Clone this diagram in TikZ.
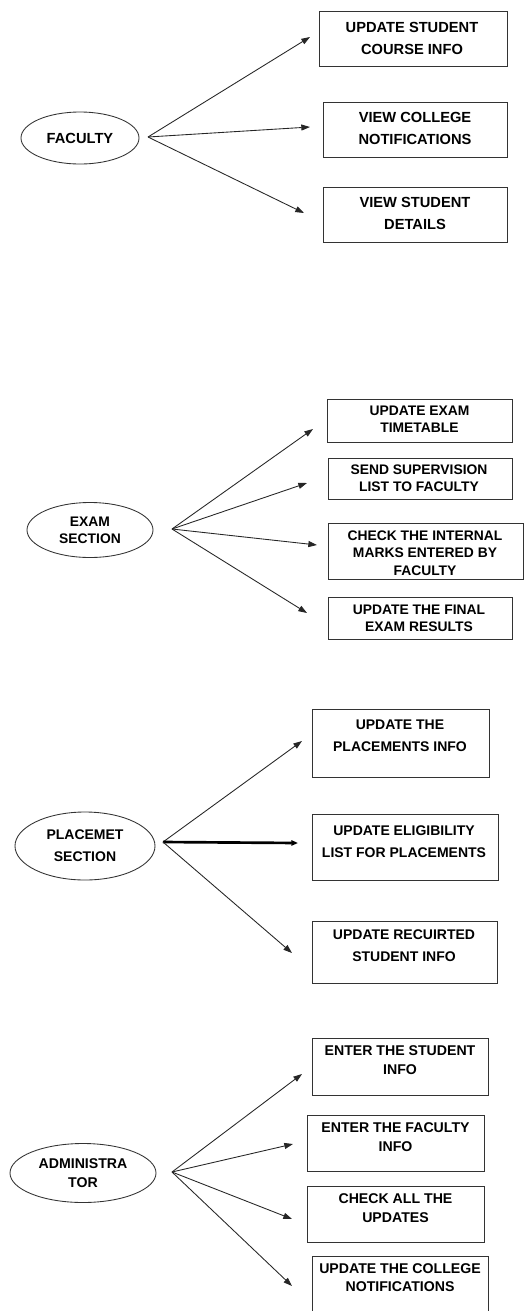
\documentclass[tikz,border=0pt]{standalone}
\usepackage{fontspec}
\setmainfont{Liberation Sans}
\usetikzlibrary{arrows.meta,shapes.geometric}
\begin{document}
\begin{tikzpicture}[x=0.75pt,y=-0.75pt,
 box/.style={draw=black!80,line width=0.75pt,inner sep=0pt},
 txt/.style={align=center,inner sep=0pt},
 actor/.style={draw=black!80,line width=0.65pt,ellipse,inner sep=0pt,align=center},
 arr/.style={draw=black!85,line width=0.65pt,-{Triangle[length=6.5pt,width=4.5pt]}},
 thickarr/.style={draw=black,line width=2pt,-{Triangle[length=5pt,width=4pt]}},
 sa/.style={font=\bfseries\fontsize{11}{16.5}\selectfont},
 sb/.style={font=\bfseries\fontsize{10.4}{13}\selectfont},
 sc/.style={font=\bfseries\fontsize{10.5}{16.5}\selectfont},
 sd/.style={font=\bfseries\fontsize{10.6}{14}\selectfont}]
\clip (0,0) rectangle (527,1311);
\fill[white] (0,0) rectangle (527,1311);

% ---------- FACULTY ----------
\node[actor,sa,minimum width=88.5pt,minimum height=39pt] (fac) at (80,138) {FACULTY};
\coordinate (fo) at (148,137);
\node[box,minimum width=141pt,minimum height=41.25pt] (f1) at (413,38.5) {};
\node[txt,sa] (f1t) at (412,38) {UPDATE STUDENT\\COURSE INFO};
\node[box,minimum width=138pt,minimum height=41.25pt] (f2) at (415,129.5) {};
\node[txt,sa] (f2t) at (415,128) {VIEW COLLEGE\\NOTIFICATIONS};
\node[box,minimum width=138pt,minimum height=41.25pt] (f3) at (415,214.5) {};
\node[txt,sa] (f3t) at (415,213) {VIEW STUDENT\\DETAILS};
\coordinate (f1a) at (310,37);
\coordinate (f2a) at (310,127);
\coordinate (f3a) at (304,213);
\draw[arr] (fo) -- (f1a);
\draw[arr] (fo) -- (f2a);
\draw[arr] (fo) -- (f3a);

% ---------- EXAM SECTION ----------
\node[actor,sb,minimum width=94.5pt,minimum height=41.25pt] (exm) at (90,530) {EXAM\\SECTION};
\coordinate (eo) at (172,529);
\node[box,minimum width=138.75pt,minimum height=32.25pt] (e1) at (419.5,420.5) {};
\node[txt,sb] (e1t) at (419.5,419.5) {UPDATE EXAM\\TIMETABLE};
\node[box,minimum width=138pt,minimum height=30.75pt] (e2) at (420,478.5) {};
\node[txt,sb] (e2t) at (419,478) {SEND SUPERVISION\\LIST TO FACULTY};
\node[box,minimum width=146.25pt,minimum height=42pt] (e3) at (425.5,551) {};
\node[txt,sb] (e3t) at (425,553) {CHECK THE INTERNAL\\MARKS ENTERED BY\\FACULTY};
\node[box,minimum width=138pt,minimum height=31.5pt] (e4) at (420,618) {};
\node[txt,sb] (e4t) at (419,618.5) {UPDATE THE FINAL\\EXAM RESULTS};
\coordinate (e1a) at (313,429);
\coordinate (e2a) at (307,483);
\coordinate (e3a) at (317,545);
\coordinate (e4a) at (307,613);
\draw[arr] (eo) -- (e1a);
\draw[arr] (eo) -- (e2a);
\draw[arr] (eo) -- (e3a);
\draw[arr] (eo) -- (e4a);

% ---------- PLACEMET SECTION ----------
\node[actor,sc,minimum width=105pt,minimum height=51pt] (plc) at (85,846) {PLACEMET\\SECTION};
\coordinate (po) at (163,842);
\node[box,minimum width=132.75pt,minimum height=51pt] (p1) at (400.5,743) {};
\node[txt,sc] (p1t) at (400,735.5) {UPDATE THE\\PLACEMENTS INFO};
\node[box,minimum width=139.5pt,minimum height=49.5pt] (p2) at (405,847) {};
\node[txt,sc] (p2t) at (404,842) {UPDATE ELIGIBILITY\\LIST FOR PLACEMENTS};
\node[box,minimum width=138.75pt,minimum height=46.5pt] (p3) at (404.5,952) {};
\node[txt,sc] (p3t) at (404,946) {UPDATE RECUIRTED\\STUDENT INFO};
\coordinate (p1a) at (302,741);
\coordinate (p2a) at (298,843);
\coordinate (p3a) at (292,953);
\draw[arr] (po) -- (p1a);
\draw[thickarr] (po) -- (p2a);
\draw[arr] (po) -- (p3a);

% ---------- ADMINISTRATOR ----------
\node[actor,sd,minimum width=109.5pt,minimum height=44.25pt] (adm) at (83,1173) {ADMINISTRA\\TOR};
\coordinate (ao) at (172,1172);
\node[box,minimum width=132pt,minimum height=42.75pt] (a1) at (400,1066.5) {};
\node[txt,sd] (a1t) at (400,1060) {ENTER THE STUDENT\\INFO};
\node[box,minimum width=132.75pt,minimum height=42pt] (a2) at (395.5,1143) {};
\node[txt,sd] (a2t) at (395.5,1137) {ENTER THE FACULTY\\INFO};
\node[box,minimum width=132.75pt,minimum height=42pt] (a3) at (395.5,1214) {};
\node[txt,sd] (a3t) at (395.5,1208) {CHECK ALL THE\\UPDATES};
\node[box,minimum width=132pt,minimum height=43.5pt] (a4) at (400,1285) {};
\node[txt,sd] (a4t) at (400,1277.5) {UPDATE THE COLLEGE\\NOTIFICATIONS};
\coordinate (a1a) at (302,1074);
\coordinate (a2a) at (293,1144);
\coordinate (a3a) at (292,1219);
\coordinate (a4a) at (292,1286);
\draw[arr] (ao) -- (a1a);
\draw[arr] (ao) -- (a2a);
\draw[arr] (ao) -- (a3a);
\draw[arr] (ao) -- (a4a);
\end{tikzpicture}
\end{document}
